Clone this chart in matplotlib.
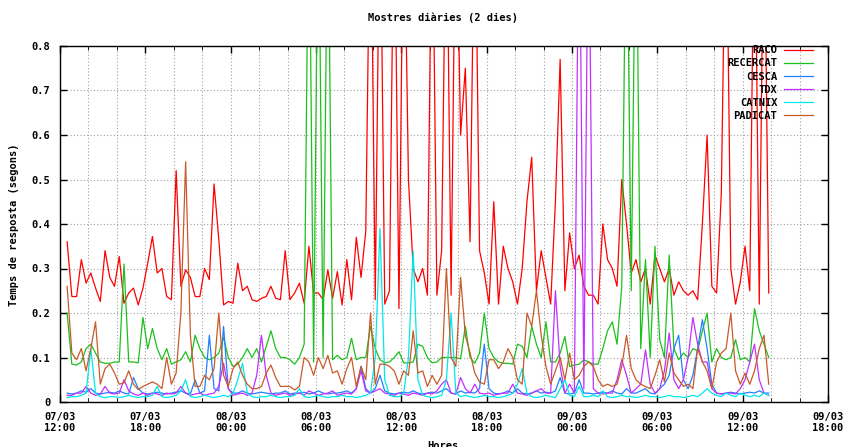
import numpy as np
import pandas as pd
import matplotlib
matplotlib.use('Agg')
import matplotlib.pyplot as plt
import matplotlib.dates as mdates

# Mostres cada 20 minuts, des de 07/03 12:30
inici = pd.Timestamp('2008-03-07 12:30')
n_mostres = 149
hores = pd.date_range(inici, periods=n_mostres, freq='20min')

# Temps de resposta (segons) - valors llegits del grafic, > 0.8 = fora de l'escala
raco = [0.36, 0.237, 0.237, 0.32, 0.267, 0.29, 0.256, 0.226, 0.34, 0.28,
        0.26, 0.327, 0.222, 0.245, 0.256, 0.218, 0.256, 0.312, 0.372, 0.29,
        0.3, 0.237, 0.23, 0.52, 0.26, 0.297, 0.28, 0.237, 0.237, 0.3,
        0.275, 0.49, 0.365, 0.218, 0.226, 0.222, 0.312, 0.25, 0.26, 0.23,
        0.226, 0.233, 0.237, 0.26, 0.233, 0.23, 0.34, 0.23, 0.245, 0.267,
        0.222, 0.35, 0.245, 0.245, 0.23, 0.297, 0.233, 0.293, 0.218, 0.32,
        0.23, 0.37, 0.28, 0.384, 1.2, 0.23, 1.2, 0.22, 0.25, 1.2,
        0.21, 1.2, 0.5, 0.3, 0.27, 0.3, 0.24, 1.2, 0.24, 0.34,
        1.2, 0.24, 1.2, 0.6, 0.75, 0.36, 1.2, 0.34, 0.29, 0.22,
        0.45, 0.22, 0.35, 0.3, 0.27, 0.22, 0.3, 0.45, 0.55, 0.25,
        0.34, 0.28, 0.22, 0.45, 0.77, 0.25, 0.38, 0.3, 0.33, 0.26,
        0.24, 0.24, 0.22, 0.4, 0.32, 0.3, 0.26, 0.5, 0.4, 0.29,
        0.32, 0.27, 0.3, 0.22, 0.33, 0.3, 0.27, 0.3, 0.24, 0.27,
        0.25, 0.24, 0.25, 0.23, 0.4, 0.6, 0.26, 0.245, 0.47, 1.2,
        0.3, 0.22, 0.27, 0.35, 0.25, 1.2, 0.22, 1.2, 0.245]

recercat = [0.2, 0.085, 0.083, 0.09, 0.12, 0.13, 0.11, 0.09, 0.087, 0.087,
            0.09, 0.09, 0.31, 0.09, 0.09, 0.088, 0.19, 0.12, 0.165, 0.12,
            0.095, 0.12, 0.085, 0.09, 0.095, 0.113, 0.09, 0.15, 0.12, 0.1,
            0.095, 0.1, 0.11, 0.145, 0.1, 0.08, 0.085, 0.1, 0.12, 0.1,
            0.12, 0.09, 0.125, 0.16, 0.12, 0.1, 0.1, 0.095, 0.085, 0.1,
            0.13, 1.2, 0.09, 1.2, 0.1, 1.2, 0.095, 0.105, 0.095, 0.1,
            0.143, 0.095, 0.1, 0.1, 0.17, 0.12, 0.095, 0.088, 0.09, 0.1,
            0.113, 0.088, 0.088, 0.09, 0.13, 0.125, 0.1, 0.088, 0.09, 0.1,
            0.1, 0.1, 0.1, 0.097, 0.17, 0.1, 0.087, 0.11, 0.2, 0.12,
            0.1, 0.09, 0.087, 0.087, 0.085, 0.13, 0.125, 0.1, 0.17, 0.13,
            0.1, 0.18, 0.09, 0.09, 0.11, 0.147, 0.08, 0.083, 0.085, 0.095,
            0.09, 0.085, 0.085, 0.12, 0.16, 0.18, 0.13, 0.26, 1.2, 0.25,
            1.2, 0.12, 0.32, 0.1, 0.35, 0.14, 0.1, 0.33, 0.12, 0.095,
            0.11, 0.1, 0.12, 0.115, 0.16, 0.2, 0.09, 0.12, 0.1, 0.095,
            0.1, 0.14, 0.095, 0.1, 0.09, 0.21, 0.16, 0.13, 0.1]

cesca = [0.02, 0.018, 0.02, 0.025, 0.022, 0.03, 0.02, 0.018, 0.02, 0.022,
         0.02, 0.025, 0.02, 0.018, 0.055, 0.03, 0.02, 0.018, 0.02, 0.022,
         0.02, 0.018, 0.02, 0.022, 0.025, 0.02, 0.018, 0.05, 0.02, 0.025,
         0.15, 0.03, 0.025, 0.17, 0.03, 0.02, 0.02, 0.025, 0.02, 0.018,
         0.02, 0.022, 0.02, 0.018, 0.02, 0.02, 0.025, 0.018, 0.02, 0.02,
         0.022, 0.018, 0.02, 0.025, 0.02, 0.018, 0.02, 0.02, 0.022, 0.025,
         0.02, 0.03, 0.08, 0.03, 0.02, 0.03, 0.06, 0.025, 0.02, 0.018,
         0.02, 0.022, 0.02, 0.025, 0.02, 0.018, 0.02, 0.022, 0.02, 0.025,
         0.03, 0.02, 0.018, 0.025, 0.02, 0.022, 0.02, 0.03, 0.13, 0.03,
         0.02, 0.018, 0.02, 0.025, 0.02, 0.03, 0.02, 0.018, 0.02, 0.025,
         0.02, 0.022, 0.02, 0.025, 0.055, 0.02, 0.018, 0.02, 0.05, 0.02,
         0.02, 0.018, 0.02, 0.022, 0.02, 0.025, 0.02, 0.018, 0.03, 0.02,
         0.02, 0.025, 0.03, 0.02, 0.018, 0.03, 0.04, 0.06, 0.12, 0.15,
         0.05, 0.03, 0.06, 0.12, 0.185, 0.12, 0.04, 0.02, 0.018, 0.02,
         0.022, 0.02, 0.018, 0.02, 0.022, 0.02, 0.025, 0.02, 0.02]

tdx = [0.015, 0.015, 0.02, 0.02, 0.035, 0.02, 0.015, 0.018, 0.035, 0.02,
       0.018, 0.02, 0.05, 0.025, 0.018, 0.015, 0.02, 0.015, 0.02, 0.018,
       0.015, 0.02, 0.018, 0.02, 0.035, 0.02, 0.015, 0.018, 0.02, 0.015,
       0.018, 0.02, 0.035, 0.087, 0.03, 0.015, 0.018, 0.02, 0.015, 0.02,
       0.06, 0.15, 0.06, 0.02, 0.015, 0.018, 0.02, 0.015, 0.018, 0.02,
       0.015, 0.025, 0.02, 0.015, 0.018, 0.02, 0.025, 0.015, 0.018, 0.02,
       0.018, 0.03, 0.07, 0.025, 0.02, 0.025, 0.03, 0.02, 0.018, 0.015,
       0.02, 0.018, 0.015, 0.02, 0.018, 0.015, 0.02, 0.018, 0.025, 0.04,
       0.05, 0.02, 0.018, 0.055, 0.03, 0.02, 0.04, 0.02, 0.018, 0.02,
       0.015, 0.018, 0.02, 0.02, 0.04, 0.02, 0.018, 0.015, 0.02, 0.025,
       0.03, 0.02, 0.02, 0.25, 0.08, 0.02, 0.04, 0.02, 1.2, 0.03,
       1.2, 0.03, 0.02, 0.018, 0.02, 0.02, 0.05, 0.095, 0.06, 0.02,
       0.03, 0.04, 0.117, 0.04, 0.02, 0.03, 0.07, 0.155, 0.05, 0.03,
       0.05, 0.1, 0.19, 0.13, 0.09, 0.09, 0.03, 0.02, 0.018, 0.02,
       0.02, 0.018, 0.03, 0.05, 0.09, 0.13, 0.05, 0.02, 0.015]

catnix = [0.01, 0.012, 0.012, 0.015, 0.02, 0.12, 0.02, 0.012, 0.01, 0.012,
          0.012, 0.01, 0.012, 0.015, 0.012, 0.01, 0.012, 0.012, 0.015, 0.035,
          0.012, 0.01, 0.012, 0.015, 0.025, 0.05, 0.012, 0.01, 0.012, 0.015,
          0.012, 0.01, 0.012, 0.015, 0.012, 0.02, 0.05, 0.087, 0.02, 0.012,
          0.01, 0.012, 0.012, 0.015, 0.012, 0.01, 0.012, 0.012, 0.015, 0.03,
          0.012, 0.01, 0.012, 0.015, 0.012, 0.01, 0.012, 0.012, 0.015, 0.012,
          0.012, 0.01, 0.012, 0.015, 0.02, 0.1, 0.39, 0.05, 0.015, 0.012,
          0.012, 0.02, 0.1, 0.34, 0.05, 0.015, 0.012, 0.01, 0.012, 0.015,
          0.05, 0.2, 0.02, 0.012, 0.015, 0.012, 0.01, 0.012, 0.015, 0.012,
          0.012, 0.01, 0.012, 0.015, 0.02, 0.04, 0.075, 0.02, 0.012, 0.01,
          0.012, 0.015, 0.012, 0.01, 0.03, 0.05, 0.015, 0.012, 0.035, 0.012,
          0.012, 0.015, 0.012, 0.025, 0.012, 0.01, 0.012, 0.015, 0.012, 0.012,
          0.01, 0.012, 0.015, 0.012, 0.012, 0.01, 0.012, 0.015, 0.012, 0.012,
          0.01, 0.012, 0.015, 0.012, 0.02, 0.03, 0.02, 0.015, 0.012, 0.02,
          0.015, 0.012, 0.02, 0.015, 0.012, 0.015, 0.012, 0.02, 0.015]

padicat = [0.26, 0.11, 0.095, 0.12, 0.07, 0.12, 0.18, 0.04, 0.075, 0.085,
           0.065, 0.04, 0.043, 0.07, 0.04, 0.028, 0.035, 0.04, 0.045, 0.04,
           0.03, 0.1, 0.04, 0.065, 0.2, 0.54, 0.15, 0.035, 0.035, 0.06,
           0.05, 0.075, 0.2, 0.06, 0.035, 0.075, 0.09, 0.06, 0.04, 0.03,
           0.03, 0.035, 0.065, 0.083, 0.055, 0.035, 0.035, 0.035, 0.027, 0.035,
           0.1, 0.09, 0.06, 0.1, 0.075, 0.105, 0.065, 0.07, 0.04, 0.075,
           0.1, 0.035, 0.08, 0.05, 0.2, 0.04, 0.085, 0.085, 0.08, 0.07,
           0.04, 0.07, 0.06, 0.16, 0.065, 0.07, 0.035, 0.06, 0.04, 0.06,
           0.3, 0.1, 0.08, 0.28, 0.15, 0.11, 0.065, 0.045, 0.04, 0.095,
           0.095, 0.075, 0.09, 0.12, 0.1, 0.05, 0.04, 0.2, 0.17, 0.25,
           0.15, 0.08, 0.04, 0.07, 0.1, 0.05, 0.11, 0.05, 0.06, 0.08,
           0.09, 0.08, 0.05, 0.035, 0.04, 0.035, 0.04, 0.08, 0.15, 0.075,
           0.05, 0.04, 0.035, 0.03, 0.06, 0.095, 0.045, 0.11, 0.065, 0.05,
           0.035, 0.04, 0.03, 0.12, 0.09, 0.07, 0.03, 0.09, 0.11, 0.12,
           0.2, 0.07, 0.04, 0.065, 0.04, 0.07, 0.12, 0.15, 0.04]

series = [('RACO', raco, '#ff0000'),
          ('RECERCAT', recercat, '#1cc01c'),
          ('CESCA', cesca, '#2080ff'),
          ('TDX', tdx, '#c030ff'),
          ('CATNIX', catnix, '#00e8e8'),
          ('PADICAT', padicat, '#c85a28')]

font_mono = {'family': 'DejaVu Sans Mono', 'weight': 'bold', 'size': 7.5}

fig = plt.figure(figsize=(8.45, 4.47), dpi=100)
# eixos: x de 60 a 828 px, y de 46 a 402 px
ax = fig.add_axes([60 / 845, 45 / 447, (828 - 60) / 845, (402 - 46) / 447])

for nom, valors, color in series:
    ax.plot(hores, valors, color=color, linewidth=0.9, label=nom)

ax.set_xlim(pd.Timestamp('2008-03-07 12:00'), pd.Timestamp('2008-03-09 18:00'))
ax.set_ylim(0, 0.8)
ax.set_yticks(np.arange(0, 0.81, 0.1))
ax.set_yticklabels(['0'] + ['%.1f' % v for v in np.arange(0.1, 0.81, 0.1)])

ax.xaxis.set_major_locator(mdates.HourLocator(byhour=[0, 6, 12, 18]))
ax.xaxis.set_major_formatter(mdates.DateFormatter('%d/%m\n%H:%M'))
ax.xaxis.set_minor_locator(mdates.HourLocator(byhour=range(0, 24, 2)))

ax.grid(True, which='major', color='#a0a0a0', linestyle=(0, (1, 2)), linewidth=0.8)
ax.grid(True, which='minor', axis='x', color='#a0a0a0', linestyle=(0, (1, 2)), linewidth=0.8)
ax.tick_params(direction='in', top=True, right=True, length=5, width=1, pad=7)
ax.tick_params(which='minor', direction='in', top=True, right=True, length=3)

for lbl in ax.get_xticklabels() + ax.get_yticklabels():
    lbl.set_fontfamily('DejaVu Sans Mono')
    lbl.set_fontweight('bold')
    lbl.set_fontsize(7.5)

for sp in ax.spines.values():
    sp.set_linewidth(1.0)

fig.text(443 / 845, 1 - 18 / 447, 'Mostres diàries (2 dies)', ha='center', va='center', **font_mono)
fig.text(14 / 845, 1 - 225 / 447, 'Temps de resposta (segons)', rotation=90,
         ha='center', va='center', **font_mono)
fig.text(443 / 845, 1 - 446 / 447, 'Hores', ha='center', va='center', **font_mono)

leg = ax.legend(loc='upper right', bbox_to_anchor=(820 / 845, 1 - 38 / 447),
                bbox_transform=fig.transFigure, frameon=False, markerfirst=False,
                handlelength=2.8, handletextpad=0.6, labelspacing=0.3,
                borderpad=0.2, prop={'family': 'DejaVu Sans Mono', 'weight': 'bold', 'size': 7.5})

plt.savefig('out.png', dpi=100)
